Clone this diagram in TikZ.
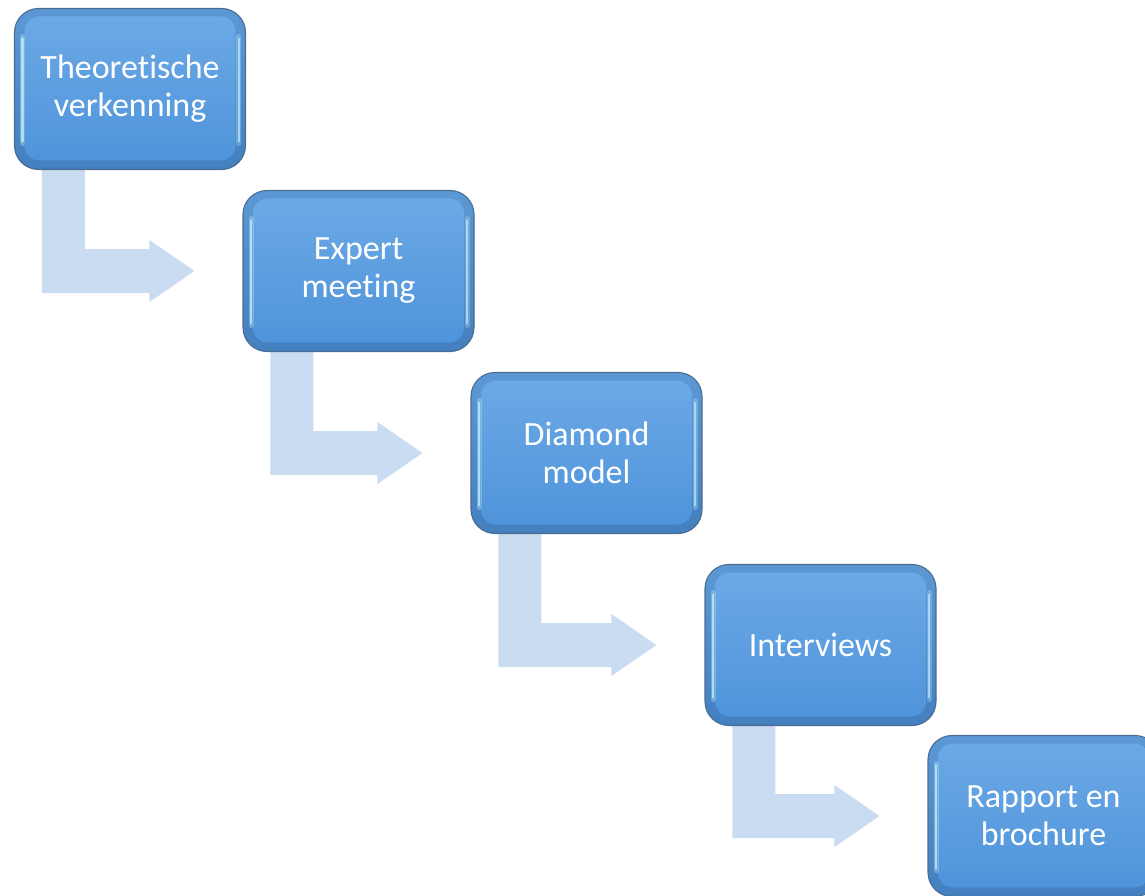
\documentclass[tikz,border=0pt]{standalone}
\usepackage{fontspec}
\setmainfont[Ligatures={NoCommon}]{Carlito}
\usetikzlibrary{calc}
\pgfdeclarelayer{background}
\pgfsetlayers{background,main}

\definecolor{rimtop}{HTML}{5C98D4}
\definecolor{rimbot}{HTML}{447FBF}
\definecolor{facetop}{HTML}{6DAAE6}
\definecolor{facebot}{HTML}{4D93DA}
\definecolor{boxedge}{HTML}{4A6D92}
\definecolor{glint}{HTML}{BDEBFA}
\definecolor{flowarrow}{HTML}{C9DCF2}

\tikzset{
  stepbox/.style={
    rounded corners=24pt, minimum width=231pt, minimum height=161pt,
    inner sep=0pt, draw=boxedge, line width=1.1pt,
    top color=rimtop, bottom color=rimbot,
    text=white, align=center, font=\fontsize{34}{38}\selectfont,
    path picture={
      % inner face of the bevelled button
      \shade[top color=facetop, bottom color=facebot, rounded corners=15pt]
        ([xshift=10pt,yshift=-8pt]path picture bounding box.north west)
        rectangle ([xshift=-10pt,yshift=9pt]path picture bounding box.south east);
      % soft glints along the side rims
      \draw[glint, line width=5pt, line cap=round, opacity=0.35]
        ([xshift=8pt,yshift=-28pt]path picture bounding box.north west)
        -- ([xshift=8pt,yshift=26pt]path picture bounding box.south west);
      \draw[glint, line width=2.5pt, line cap=round, opacity=0.8]
        ([xshift=8pt,yshift=-30pt]path picture bounding box.north west)
        -- ([xshift=8pt,yshift=28pt]path picture bounding box.south west);
      \draw[glint, line width=5pt, line cap=round, opacity=0.3]
        ([xshift=-7pt,yshift=-28pt]path picture bounding box.north east)
        -- ([xshift=-7pt,yshift=26pt]path picture bounding box.south east);
      \draw[glint, line width=2pt, line cap=round, opacity=0.7]
        ([xshift=-7pt,yshift=-30pt]path picture bounding box.north east)
        -- ([xshift=-7pt,yshift=28pt]path picture bounding box.south east);
    }
  },
  flowfill/.style={fill=flowarrow, draw=none}
}

% bent arrow from under box #1 to the left side of box #2
\newcommand{\bentarrow}[2]{%
  \fill[flowfill] let \p1=(#1.south west), \p2=(#2.west) in
    (\x1+28pt,\y1) -- (\x1+71pt,\y1) -- (\x1+71pt,\y2+22pt)
    -- (\x2-93pt,\y2+22pt) -- (\x2-93pt,\y2+31pt) -- (\x2-48pt,\y2)
    -- (\x2-93pt,\y2-31pt) -- (\x2-93pt,\y2-22pt) -- (\x1+28pt,\y2-22pt)
    -- cycle;}

\begin{document}
\begin{tikzpicture}[x=1pt,y=-1pt]
  \useasboundingbox (0,0) rectangle (1145,896);
  \clip (0,0) rectangle (1145,896);

  \node[stepbox] (s1) at (130,89)    {Theoretische\\verkenning};
  \node[stepbox] (s2) at (358.5,271) {Expert\\meeting};
  \node[stepbox] (s3) at (586.5,453) {Diamond\\model};
  \node[stepbox] (s4) at (820.5,645) {Interviews};
  \node[stepbox] (s5) at (1043.5,816) {Rapport en\\brochure};

  \begin{pgfonlayer}{background}
    \bentarrow{s1}{s2}
    \bentarrow{s2}{s3}
    \bentarrow{s3}{s4}
    \bentarrow{s4}{s5}
  \end{pgfonlayer}
\end{tikzpicture}
\end{document}
